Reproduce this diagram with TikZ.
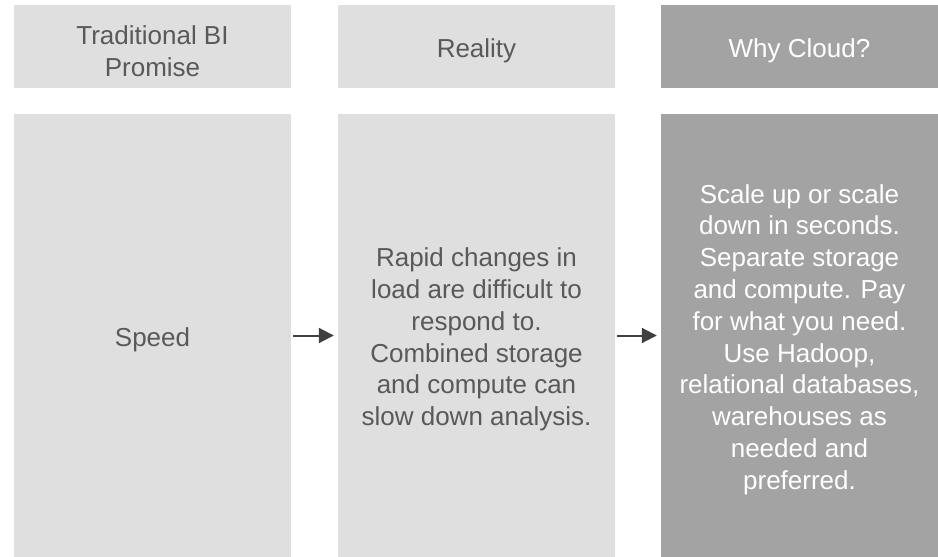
\documentclass[tikz,border=0pt]{standalone}
\usepackage{fontspec}
\setmainfont{Liberation Sans}
\usetikzlibrary{arrows.meta}
\definecolor{paneLight}{RGB}{223,223,223}
\definecolor{paneDark}{RGB}{163,163,163}
\definecolor{inkGray}{RGB}{89,89,89}
\definecolor{arrowGray}{RGB}{64,64,64}
\tikzset{
  pane/.style={rectangle, draw=none, inner sep=0pt, minimum width=277pt},
  lightpane/.style={pane, fill=paneLight},
  darkpane/.style={pane, fill=paneDark},
  headpane/.style={minimum height=83pt},
  bodypane/.style={minimum height=443pt},
  panetext/.style={inner sep=0pt, align=center,
    font=\fontsize{26}{31.8}\selectfont},
  lighttext/.style={panetext, text=inkGray},
  darktext/.style={panetext, text=white},
  flow/.style={draw=arrowGray, line width=2pt,
    -{Triangle[length=15pt,width=15pt]}, shorten <=2pt, shorten >=4pt}
}
\begin{document}
\begin{tikzpicture}[x=1pt,y=-1pt]
\useasboundingbox (0,0) rectangle (938,557);
% column headers
\node[lightpane, headpane] (h1) at (152.5,46.5) {};
\node[lightpane, headpane] (h2) at (476.5,46.5) {};
\node[darkpane, headpane]  (h3) at (799.5,46.5) {};
% column bodies
\node[lightpane, bodypane] (b1) at (152.5,335.5) {};
\node[lightpane, bodypane] (b2) at (476.5,335.5) {};
\node[darkpane, bodypane]  (b3) at (799.5,335.5) {};
% texts, set slightly below the geometric centre
\node[lighttext] (th1) at ([yshift=-4.5pt]h1.center) {Traditional BI\\Promise};
\node[lighttext] (th2) at ([yshift=-4.5pt]h2.center) {Reality};
\node[darktext]  (th3) at ([yshift=-4.5pt]h3.center) {Why Cloud?};
\node[lighttext] (tb1) at ([yshift=-4pt]b1.center) {Speed};
\node[lighttext] (tb2) at ([yshift=-4pt]b2.center)
  {Rapid changes in\\load are difficult to\\respond to.\\Combined storage\\and compute can\\slow down analysis.};
\node[darktext]  (tb3) at ([yshift=-4pt]b3.center)
  {Scale up or scale\\down in seconds.\\Separate storage\\and compute. Pay\\for what you need.\\Use Hadoop,\\relational databases,\\warehouses as\\needed and\\preferred.};
% flow arrows
\draw[flow] (b1.east) -- (b2.west);
\draw[flow] (b2.east) -- (b3.west);
\end{tikzpicture}
\end{document}
